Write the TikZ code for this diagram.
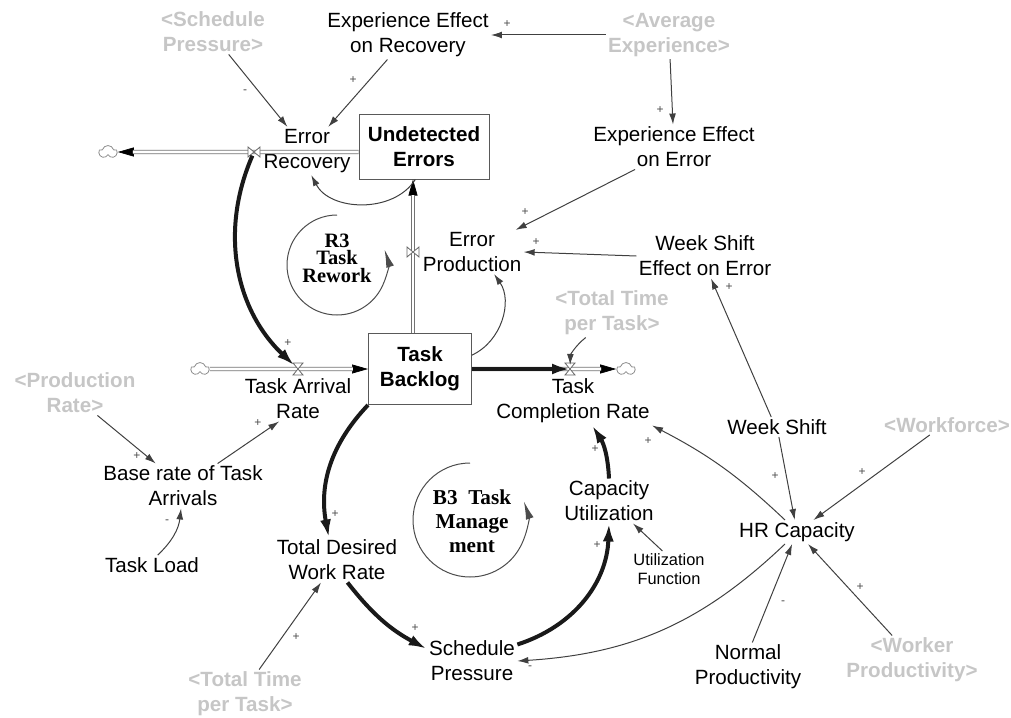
\documentclass[tikz,border=0pt]{standalone}
\usepackage{fontspec}
\setmainfont{Liberation Sans}
\newfontfamily\loopfont{Liberation Serif}
\usetikzlibrary{arrows.meta,shapes.symbols}

\definecolor{ghost}{RGB}{198,198,198}

\tikzset{
  var/.style={align=center, inner sep=1pt, font=\fontsize{10.3}{12.5}\selectfont},
  small var/.style={var, font=\fontsize{8.2}{9.6}\selectfont},
  shadow/.style={var, text=ghost, font=\fontsize{10.3}{12.5}\selectfont\bfseries},
  stock/.style={var, draw=black!65, line width=0.5pt, font=\fontsize{10.3}{12.5}\selectfont\bfseries},
  cloudy/.style={cloud, cloud puffs=5, aspect=1.4, draw=black!45, line width=0.4pt,
    minimum width=9pt, minimum height=6.5pt, inner sep=0pt},
  link/.style={draw=black!75, line width=0.5pt, -{Latex[length=5.5pt,width=3.4pt]}},
  strong/.style={draw=black!90, line width=2pt, -{Latex[length=9pt,width=5.5pt]}},
  pipe/.style={draw=black!55, line width=0.35pt, double=white, double distance=1.4pt, shorten >=7.6pt},
  pipetip/.style={draw=black, line width=0.35pt, -{Triangle[length=8pt,width=4.5pt]}},
  loopline/.style={draw=black!70, line width=0.5pt, -{Latex[length=9pt,width=4pt]}},
  looplabel/.style={align=center, inner sep=0pt, font=\loopfont\bfseries\fontsize{10.2}{8.8}\selectfont},
  sign/.style={inner sep=0pt, text=black!70, font=\fontsize{6}{6}\selectfont},
  hourglass/.pic={\draw[black!60, fill=white, line width=0.4pt] (-5,-6) -- (5,-6) -- (-5,6) -- (5,6) -- cycle;},
  bowtie/.pic={\draw[black!60, fill=white, line width=0.4pt] (-6,-5) -- (-6,5) -- (6,-5) -- (6,5) -- cycle;}
}

\begin{document}
\begin{tikzpicture}[x=0.5pt, y=-0.5pt]
\useasboundingbox (0,0) rectangle (1011,717);

% stocks
\node [stock, minimum width=65pt, minimum height=32pt] (errors) at (424,147) {Undetected\\Errors};
\node [stock, minimum width=51.5pt, minimum height=35.5pt] (backlog) at (420,369) {Task\\Backlog};

% variables
\node [var] (recovery) at (307,151) {Error\\Recovery};
\node [var] (exp-recovery) at (408,35) {Experience Effect\\on Recovery};
\node [var] (exp-error) at (674,147) {Experience Effect\\on Error};
\node [var] (production) at (472,252) {Error\\Production};
\node [var] (shift-effect) at (705,256) {Week Shift\\Effect on Error};
\node [var] (arrival) at (298,399) {Task Arrival\\Rate};
\node [var] (completion) at (573,401) {Task\\Completion Rate};
\node [var] (base) at (183,486) {Base rate of Task\\Arrivals};
\node [var] (load) at (152,565) {Task Load};
\node [var] (shift) at (777,427) {Week Shift};
\node [var] (utilization) at (609,501) {Capacity\\Utilization};
\node [var] (hr) at (797,532) {HR Capacity};
\node [small var] (util-fn) at (669,569) {Utilization\\Function};
\node [var] (desired) at (337,560) {Total Desired\\Work Rate};
\node [var] (pressure) at (472,661) {Schedule\\Pressure};
\node [var] (normal-prod) at (748,667) {Normal\\Productivity};

% shadow variables
\node [shadow] (pressure-top) at (213,32) {<Schedule\\Pressure>};
\node [shadow] (avg-exp) at (669,35) {<Average\\Experience>};
\node [shadow] (time-top) at (612,313) {<Total Time\\per Task>};
\node [shadow] (production-rate) at (75,393) {<Production\\Rate>};
\node [shadow] (workforce) at (947,425) {<Workforce>};
\node [shadow] (worker-prod) at (912,660) {<Worker\\Productivity>};
\node [shadow] (time-bottom) at (245,694) {<Total Time\\per Task>};

% clouds and valves
\foreach \x/\y [count=\i] in {108/152, 200/369, 626/369}
  \node [cloudy] (cloud-\i) at (\x,\y) {};
\coordinate (valve-1) at (254,152);
\coordinate (valve-2) at (413,252);
\coordinate (valve-3) at (298,369);
\coordinate (valve-4) at (570,369);

% flows
\draw [pipetip] (valve-1) -- (cloud-1);
\draw [pipe] (errors.west |- valve-1) -- (cloud-1);
\draw [pipetip] (valve-3) -- (backlog.west);
\draw [pipe] (cloud-2) -- (backlog.west);
\draw [pipetip] (valve-2) -- (valve-2 |- errors.south);
\draw [pipe] (valve-2 |- backlog.north) -- (valve-2 |- errors.south);
\draw [pipetip] (valve-4) -- (cloud-3);
\draw [pipe] (backlog.east) -- (cloud-3);

\pic at (valve-1) {bowtie};
\pic at (valve-2) {bowtie};
\pic at (valve-3) {hourglass};
\pic at (valve-4) {hourglass};

% links
\draw [link] (pressure-top.-55) -- (recovery);
\draw [link] (exp-recovery.-130) -- (recovery);
\draw [link] (avg-exp.west) -- (exp-recovery.east);
\draw [link] (avg-exp) -- (exp-error);
\draw [link] (exp-error.-150) -- (production);
\draw [link] (shift-effect.west) -- (production.east);
\draw [link] (shift.120) -- (shift-effect.-75);
\draw [link] (shift) -- (hr);
\draw [link] (workforce.-150) -- (hr);
\draw [link] (worker-prod.129) -- (hr);
\draw [link] (normal-prod.80) -- (hr);
\draw [link] (hr.135) to [bend right=8] (completion.south east);
\draw [link] (hr.-135) to [bend left=20] (pressure.east);
\draw [link] (util-fn.110) -- (utilization);
\draw [link] (time-bottom.60) -- (desired);
\draw [link] (load.60) to [bend right=20] (base.-95);
\draw [link] (production-rate.-45) -- (base);
\draw [link] (base.33) -- (arrival.-130);
\draw [link] (backlog.15) to [bend right=50] (production.-45);
\draw [link] (errors.-105) to [bend left=60] (recovery.-80);
\draw [link, shorten >=2pt] (time-top.-137) to [bend right=25] (valve-4);

% strong links
\draw [strong, shorten <=2pt, shorten >=2.5pt] (valve-1) to [bend right=35] (valve-3);
\draw [strong] (backlog.south west) to [bend right=27] (desired.110);
\draw [strong] (desired.-65) to [bend right=12] (pressure.165);
\draw [strong] (pressure.20) to [bend right=35] (utilization.south);
\draw [strong] (utilization.north) to [bend right=15] (completion.-52);
\draw [strong] (backlog.east) -- (valve-4);

% loops
\node [looplabel] (loop-r3) at (337,258) {R3\\Task\\Rework};
\draw [loopline] (337,215) arc [start angle=-90, end angle=-378, radius=50];
\node [looplabel, font=\loopfont\bfseries\fontsize{10.6}{12}\selectfont] (loop-b3) at (472,521) {B3~~Task\\Manage\\ment};
\draw [loopline] (470,463) arc [start angle=-90, end angle=-379, radius=57];

% polarity
\foreach \s/\x/\y [count=\i] in {-/245/92, +/353/80, +/507/24, +/660/110, +/525/212,
    +/536/242, +/729/287, +/775/476, +/862/472, +/860/587, -/783/603, +/648/441,
    -/530/668, +/597/545, +/595/449, +/415/628, +/335/514, +/296/637, -/167/522,
    +/137/456, +/258/423, +/288/343}
  \node [sign] (sign-\i) at (\x,\y) {\s};

\end{tikzpicture}
\end{document}
